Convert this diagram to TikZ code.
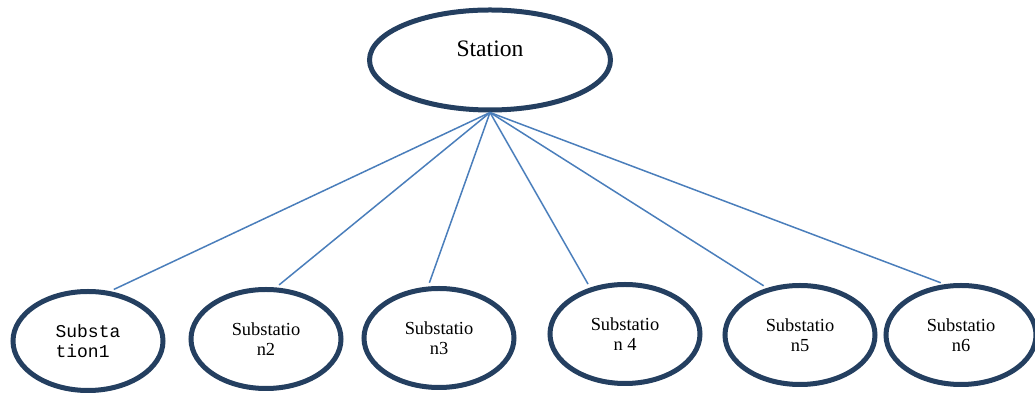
\documentclass[tikz,border=0pt]{standalone}
\usepackage{fontspec}
\setmainfont{Liberation Serif}
\setmonofont{Liberation Mono}
\usetikzlibrary{shapes.geometric}
\definecolor{rim}{HTML}{243F60}
\definecolor{wire}{HTML}{4A7EBB}

\begin{document}
\begin{tikzpicture}
    [x=0.5pt,y=-0.5pt,
     hub/.style={shape=ellipse,draw=rim,line width=2.5pt,minimum width=120.5pt,minimum height=50pt,inner sep=0pt,font=\fontsize{11.8}{14}\selectfont,text height=8pt,text depth=11pt},
     sub/.style={shape=ellipse,draw=rim,line width=2.5pt,minimum width=75pt,minimum height=49.5pt,inner sep=0pt,align=center,font=\fontsize{9.2}{10}\selectfont},
     link/.style={draw=wire,line width=0.75pt,shorten >=2pt}]
    \useasboundingbox (0,0) rectangle (1035,394);
    \node [hub] (st) at (490,60) {Station};
    \node [sub,align=left,font=\ttfamily\fontsize{9}{10}\selectfont] (s1) at (88,341) {Substa\\tion1};
    \node [sub] (s2) at (266,339) {Substatio\\n2};
    \node [sub] (s3) at (439,338) {Substatio\\n3};
    \node [sub] (s4) at (625,334) {Substatio\\n 4};
    \node [sub] (s5) at (800,335) {Substatio\\n5};
    \node [sub] (s6) at (961,335) {Substatio\\n6};
    \path (st.south) edge [link] (s1.66)
                     edge [link] (s2.79)
                     edge [link] (s3.102)
                     edge [link] (s4.127)
                     edge [link] (s5.125)
                     edge [link] (s6.108);
  \end{tikzpicture}
\end{document}
